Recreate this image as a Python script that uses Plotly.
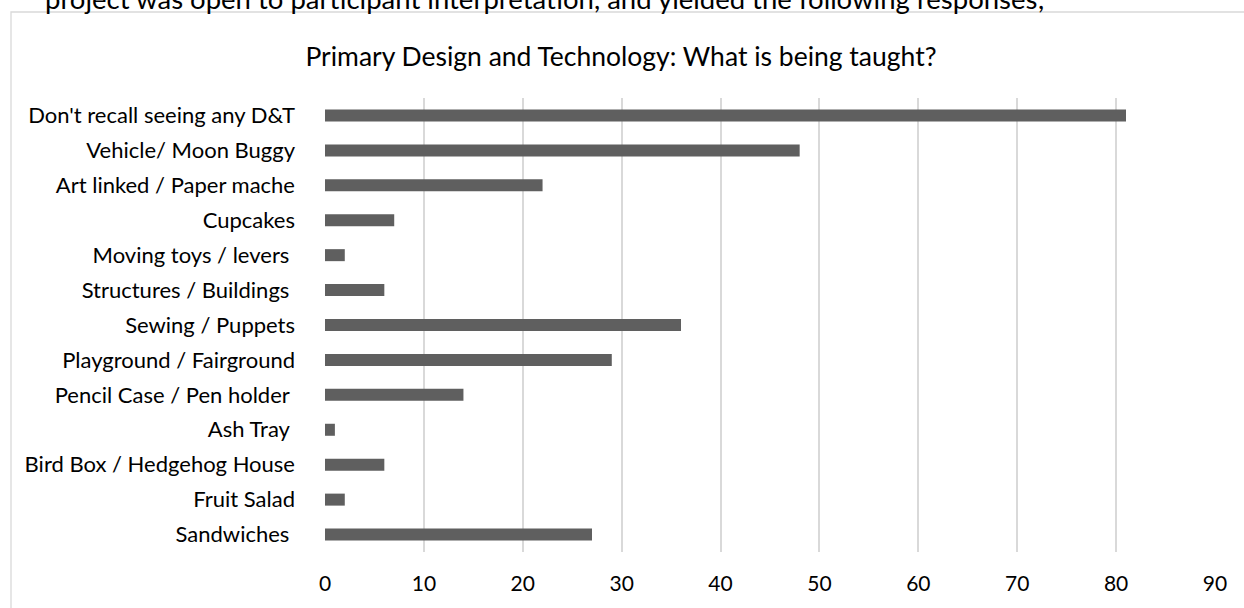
import plotly.graph_objects as go

categories = [
    "Don't recall seeing any D&T",
    "Vehicle/ Moon Buggy",
    "Art linked / Paper mache",
    "Cupcakes",
    "Moving toys / levers\u00a0",
    "Structures / Buildings\u00a0",
    "Sewing / Puppets",
    "Playground / Fairground",
    "Pencil Case / Pen holder\u00a0",
    "Ash Tray\u00a0",
    "Bird Box / Hedgehog House",
    "Fruit Salad",
    "Sandwiches\u00a0",
]
values = [81, 48, 22, 7, 2, 6, 36, 29, 14, 1, 6, 2, 27]
x_ticks = [0, 10, 20, 30, 40, 50, 60, 70, 80, 90]

title_text = "Primary Design and Technology: What is being taught?"
top_text = "project was open to participant interpretation, and yielded the following responses;"

FONT = "Lato, Calibri, sans-serif"

fig = go.Figure()
fig.add_trace(go.Bar(
    x=values,
    y=categories,
    orientation="h",
    marker=dict(color="#5f5f5f", line=dict(width=0)),
    hoverinfo="x+y",
))

# plot area: x 325..1215, y 98..552
L, R, T, B = 325, 29, 98, 56
W, H = 1244, 608
pw = W - L - R
ph = H - T - B

fig.update_layout(
    width=W,
    height=H,
    margin=dict(l=L, r=R, t=T, b=B, pad=0),
    paper_bgcolor="white",
    plot_bgcolor="white",
    showlegend=False,
    bargap=0.656,
    font=dict(family=FONT, size=22, color="#000000"),
    title=dict(
        text=title_text,
        x=621 / W,
        xanchor="center",
        y=1 - 57 / H,
        yanchor="middle",
        font=dict(family=FONT, size=26.5, color="#000000"),
    ),
    xaxis=dict(
        range=[0, 90],
        tickvals=x_ticks,
        showgrid=True,
        gridcolor="#d9d9d9",
        gridwidth=1.5,
        zeroline=False,
        showline=False,
        ticks="",
        ticklabelstandoff=17,
        tickfont=dict(family=FONT, size=21, color="#000000"),
        fixedrange=True,
    ),
    yaxis=dict(
        categoryorder="array",
        categoryarray=categories,
        autorange="reversed",
        showgrid=False,
        zeroline=False,
        showline=False,
        ticks="",
        ticklabelstandoff=29,
        tickfont=dict(family=FONT, size=22, color="#000000"),
        fixedrange=True,
    ),
    shapes=[
        dict(
            type="rect",
            xref="paper",
            yref="paper",
            x0=(11 - L) / pw,
            x1=(W + 20 - L) / pw,
            y0=-(H + 20 - (T + ph)) / ph,
            y1=1 + (T - 12) / ph,
            line=dict(color="#d9d9d9", width=1.3),
            fillcolor="rgba(0,0,0,0)",
            layer="below",
        )
    ],
    annotations=[
        dict(
            text=top_text,
            xref="paper",
            yref="paper",
            x=(43 - L) / pw,
            xanchor="left",
            y=1 + (T - 17) / ph,
            yanchor="bottom",
            showarrow=False,
            font=dict(family=FONT, size=27.5, color="#000000"),
        )
    ],
)

fig.write_html("out.html")
